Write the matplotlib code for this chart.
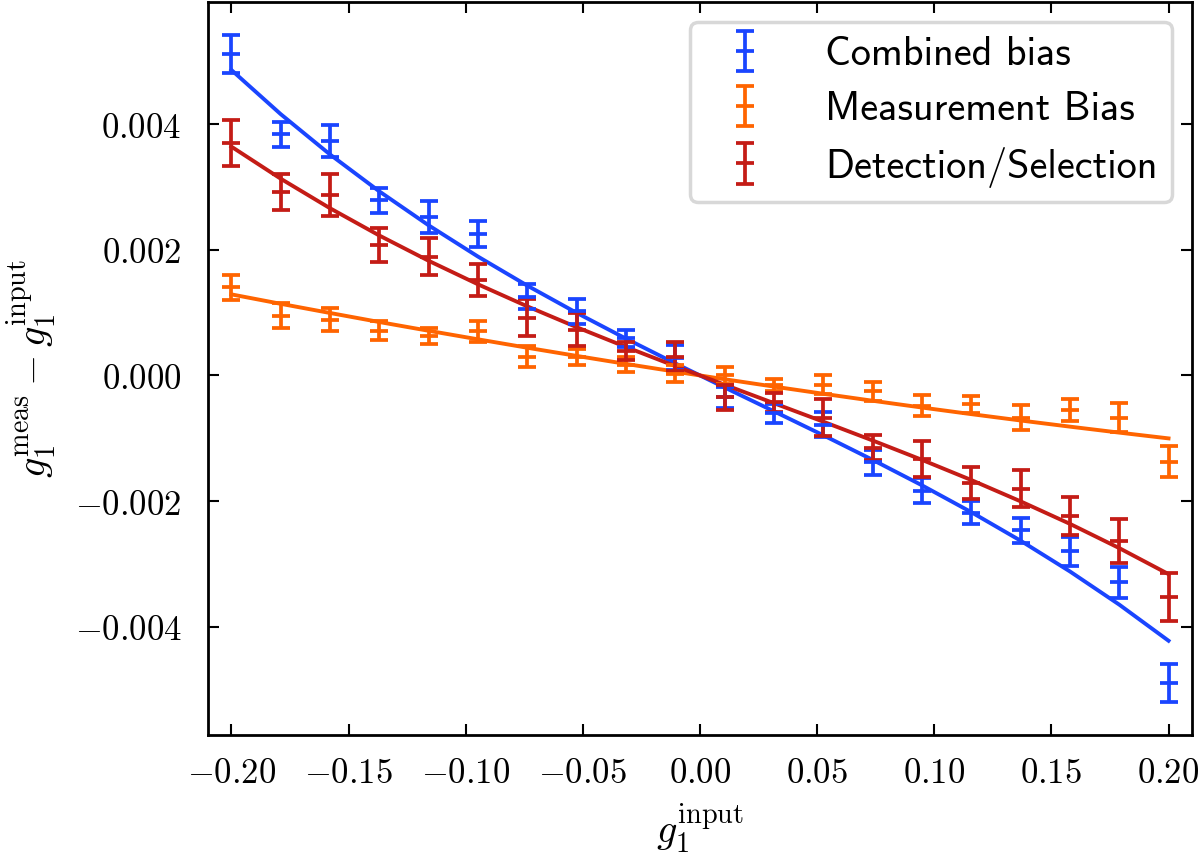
import numpy as np
import matplotlib
matplotlib.use('Agg')
import matplotlib.pyplot as plt
from matplotlib.ticker import MultipleLocator, FuncFormatter

# input shear values (20 bins)
g_input = [-0.2, -0.17895, -0.15789, -0.13684, -0.11579, -0.09474, -0.07368, -0.05263, -0.03158, -0.01053,
           0.01053, 0.03158, 0.05263, 0.07368, 0.09474, 0.11579, 0.13684, 0.15789, 0.17895, 0.2]

# combined bias
comb = [0.00511, 0.00384, 0.00373, 0.00279, 0.00252, 0.00225, 0.00125, 0.00102, 0.00059, 0.00028,
        -0.00035, -0.00060, -0.00078, -0.00138, -0.00183, -0.00218, -0.00246, -0.00280, -0.00329, -0.00489]
comb_err = [0.0003, 0.0002, 0.00025, 0.0002, 0.00026, 0.0002, 0.0002, 0.0002, 0.00013, 0.0002,
            0.00017, 0.00015, 0.0002, 0.0002, 0.0002, 0.00018, 0.0002, 0.00023, 0.00025, 0.0003]
comb_fit = [0.00486, 0.004157, 0.003515, 0.002928, 0.002388, 0.001891, 0.001429, 0.000996, 0.000586, 0.000192,
            -0.000191, -0.00057, -0.000951, -0.001342, -0.001747, -0.002174, -0.002628, -0.003117, -0.003645, -0.00422]

# measurement bias
meas = [0.0014, 0.00095, 0.00089, 0.00071, 0.00063, 0.0007, 0.0003, 0.00029, 0.00017, 0.00003,
        0.0, -0.00015, -0.00015, -0.00025, -0.00048, -0.00046, -0.00067, -0.00055, -0.00067, -0.00137]
meas_err = [0.0002, 0.0002, 0.00018, 0.00015, 0.00013, 0.00016, 0.00017, 0.00013, 0.00012, 0.00013,
            0.00013, 0.0001, 0.00015, 0.00015, 0.00017, 0.00013, 0.0002, 0.00018, 0.00023, 0.00025]
meas_fit = [0.00129, 0.00114, 0.000994, 0.00085, 0.000711, 0.000575, 0.000441, 0.000311, 0.000184, 0.0000607,
            -0.0000599, -0.000177, -0.000291, -0.000402, -0.00051, -0.000615, -0.000716, -0.000814, -0.000909, -0.001001]

# detection / selection
det = [0.0037, 0.00292, 0.00287, 0.00208, 0.00189, 0.00152, 0.00092, 0.00073, 0.00039, 0.0003,
       -0.00035, -0.00043, -0.00067, -0.00115, -0.00133, -0.00171, -0.0018, -0.00224, -0.00263, -0.00353]
det_err = [0.00036, 0.00028, 0.00033, 0.00027, 0.00029, 0.00025, 0.00029, 0.00026, 0.00015, 0.00023,
           0.0002, 0.00015, 0.00029, 0.0002, 0.00028, 0.00025, 0.0003, 0.0003, 0.00035, 0.00038]
det_fit = [0.00364, 0.00313, 0.00266, 0.002226, 0.001824, 0.00145, 0.001099, 0.000768, 0.000453, 0.000149,
           -0.000147, -0.000441, -0.000735, -0.001034, -0.001342, -0.001663, -0.002002, -0.00236, -0.002746, -0.00316]

labels = ['Combined bias', 'Measurement Bias', 'Detection/Selection']
colors = ['#1a45ff', '#ff6400', '#c41c16']

plt.rcParams['mathtext.fontset'] = 'cm'

fig = plt.figure(figsize=(12, 8.6), dpi=100)
ax = fig.add_axes([0.1733, 0.1453, 0.82, 0.8523])

series = [(comb, comb_err, comb_fit), (meas, meas_err, meas_fit), (det, det_err, det_fit)]
for (y, e, f), lab, c in zip(series, labels, colors):
    ax.errorbar(g_input, y, yerr=e, fmt='_', color=c, ms=13, mew=2.7,
                elinewidth=2.7, capsize=6.5, capthick=2.7, label=lab, zorder=3)
    ax.plot(g_input, f, '-', color=c, lw=2.8, zorder=2)

ax.set_xlim(-0.21, 0.21)
ax.set_ylim(-0.00572, 0.00594)
ax.xaxis.set_major_locator(MultipleLocator(0.05))
ax.yaxis.set_major_locator(MultipleLocator(0.002))

def fmt(dec):
    def f(v, p):
        if abs(v) < 1e-12:
            v = 0.0
        return r'$%.*f$' % (dec, v)
    return f

ax.xaxis.set_major_formatter(FuncFormatter(fmt(2)))
ax.yaxis.set_major_formatter(FuncFormatter(fmt(3)))
ax.tick_params(direction='in', top=True, right=True, length=8, width=1.5, labelsize=25)
ax.tick_params(axis='x', pad=15)
ax.tick_params(axis='y', pad=19)
for s in ax.spines.values():
    s.set_linewidth(2)

ax.set_xlabel(r'$g_1^{\rm input}$', fontsize=29, labelpad=8)
ax.set_ylabel(r'$g_1^{\rm meas} - g_1^{\rm input}$', fontsize=29, labelpad=11)

leg = ax.legend(loc='upper right', prop={'family': 'cmss10', 'size': 29}, frameon=True,
                fancybox=True, edgecolor='#d8d8d8', framealpha=1, borderaxespad=0.5,
                borderpad=0.35, handletextpad=1.0, labelspacing=0.45)
leg.get_frame().set_linewidth(2.5)

fig.savefig('out.png', dpi=100)
